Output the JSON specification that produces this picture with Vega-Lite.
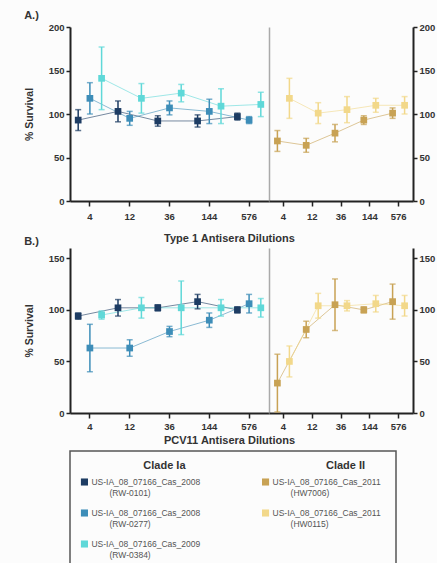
{
  "$schema": "https://vega.github.io/schema/vega-lite/v6.json",
  "padding": {"left": 24, "top": 10, "right": 2, "bottom": 0},
  "background": "#fcfcfc",
  "config": {
    "font": "Liberation Sans",
    "view": {"stroke": null},
    "axis": {"domainColor": "#222", "domainWidth": 2, "tickColor": "#222", "tickWidth": 1.5, "tickSize": 4, "labelFontSize": 9.5, "labelFontWeight": "bold", "labelColor": "#333", "titleFontSize": 10.5, "titleFontWeight": "bold", "titleColor": "#333", "grid": false, "labelPadding": 2},
    "axisX": {"labelPadding": 5, "tickSize": 5},
    "title": {"fontSize": 11, "fontWeight": "bold", "color": "#333"}
  },
  "datasets": {
    "surv": [
      {"panel": "A", "clade": "Clade Ia", "series": "RW-0101", "dilution": "4", "mean": 93, "lo": 81, "hi": 105},
      {"panel": "A", "clade": "Clade Ia", "series": "RW-0101", "dilution": "12", "mean": 103, "lo": 91, "hi": 115},
      {"panel": "A", "clade": "Clade Ia", "series": "RW-0101", "dilution": "36", "mean": 92, "lo": 86, "hi": 98},
      {"panel": "A", "clade": "Clade Ia", "series": "RW-0101", "dilution": "144", "mean": 92, "lo": 85, "hi": 99},
      {"panel": "A", "clade": "Clade Ia", "series": "RW-0101", "dilution": "576", "mean": 97, "lo": 93, "hi": 101},
      {"panel": "A", "clade": "Clade Ia", "series": "RW-0277", "dilution": "4", "mean": 118, "lo": 100, "hi": 136},
      {"panel": "A", "clade": "Clade Ia", "series": "RW-0277", "dilution": "12", "mean": 95, "lo": 87, "hi": 103},
      {"panel": "A", "clade": "Clade Ia", "series": "RW-0277", "dilution": "36", "mean": 107, "lo": 99, "hi": 115},
      {"panel": "A", "clade": "Clade Ia", "series": "RW-0277", "dilution": "144", "mean": 103, "lo": 89, "hi": 117},
      {"panel": "A", "clade": "Clade Ia", "series": "RW-0277", "dilution": "576", "mean": 93, "lo": 89, "hi": 97},
      {"panel": "A", "clade": "Clade Ia", "series": "RW-0384", "dilution": "4", "mean": 141, "lo": 105, "hi": 177},
      {"panel": "A", "clade": "Clade Ia", "series": "RW-0384", "dilution": "12", "mean": 118, "lo": 101, "hi": 135},
      {"panel": "A", "clade": "Clade Ia", "series": "RW-0384", "dilution": "36", "mean": 124, "lo": 114, "hi": 134},
      {"panel": "A", "clade": "Clade Ia", "series": "RW-0384", "dilution": "144", "mean": 109, "lo": 89, "hi": 129},
      {"panel": "A", "clade": "Clade Ia", "series": "RW-0384", "dilution": "576", "mean": 111, "lo": 97, "hi": 125},
      {"panel": "A", "clade": "Clade II", "series": "HW7006", "dilution": "4", "mean": 69, "lo": 57, "hi": 81},
      {"panel": "A", "clade": "Clade II", "series": "HW7006", "dilution": "12", "mean": 64, "lo": 56, "hi": 72},
      {"panel": "A", "clade": "Clade II", "series": "HW7006", "dilution": "36", "mean": 78, "lo": 68, "hi": 88},
      {"panel": "A", "clade": "Clade II", "series": "HW7006", "dilution": "144", "mean": 93, "lo": 88, "hi": 98},
      {"panel": "A", "clade": "Clade II", "series": "HW7006", "dilution": "576", "mean": 101, "lo": 95, "hi": 107},
      {"panel": "A", "clade": "Clade II", "series": "HW0115", "dilution": "4", "mean": 118, "lo": 95, "hi": 141},
      {"panel": "A", "clade": "Clade II", "series": "HW0115", "dilution": "12", "mean": 101, "lo": 89, "hi": 113},
      {"panel": "A", "clade": "Clade II", "series": "HW0115", "dilution": "36", "mean": 105, "lo": 90, "hi": 120},
      {"panel": "A", "clade": "Clade II", "series": "HW0115", "dilution": "144", "mean": 110, "lo": 102, "hi": 118},
      {"panel": "A", "clade": "Clade II", "series": "HW0115", "dilution": "576", "mean": 110, "lo": 100, "hi": 120},
      {"panel": "B", "clade": "Clade Ia", "series": "RW-0101", "dilution": "4", "mean": 94, "lo": 91, "hi": 97},
      {"panel": "B", "clade": "Clade Ia", "series": "RW-0101", "dilution": "12", "mean": 102, "lo": 94, "hi": 110},
      {"panel": "B", "clade": "Clade Ia", "series": "RW-0101", "dilution": "36", "mean": 102, "lo": 99, "hi": 105},
      {"panel": "B", "clade": "Clade Ia", "series": "RW-0101", "dilution": "144", "mean": 108, "lo": 101, "hi": 115},
      {"panel": "B", "clade": "Clade Ia", "series": "RW-0101", "dilution": "576", "mean": 100, "lo": 97, "hi": 103},
      {"panel": "B", "clade": "Clade Ia", "series": "RW-0277", "dilution": "4", "mean": 63, "lo": 40, "hi": 86},
      {"panel": "B", "clade": "Clade Ia", "series": "RW-0277", "dilution": "12", "mean": 63, "lo": 55, "hi": 71},
      {"panel": "B", "clade": "Clade Ia", "series": "RW-0277", "dilution": "36", "mean": 79, "lo": 74, "hi": 84},
      {"panel": "B", "clade": "Clade Ia", "series": "RW-0277", "dilution": "144", "mean": 90, "lo": 83, "hi": 97},
      {"panel": "B", "clade": "Clade Ia", "series": "RW-0277", "dilution": "576", "mean": 106, "lo": 97, "hi": 115},
      {"panel": "B", "clade": "Clade Ia", "series": "RW-0384", "dilution": "4", "mean": 95, "lo": 91, "hi": 99},
      {"panel": "B", "clade": "Clade Ia", "series": "RW-0384", "dilution": "12", "mean": 102, "lo": 92, "hi": 112},
      {"panel": "B", "clade": "Clade Ia", "series": "RW-0384", "dilution": "36", "mean": 102, "lo": 76, "hi": 128},
      {"panel": "B", "clade": "Clade Ia", "series": "RW-0384", "dilution": "144", "mean": 102, "lo": 94, "hi": 110},
      {"panel": "B", "clade": "Clade Ia", "series": "RW-0384", "dilution": "576", "mean": 102, "lo": 93, "hi": 111},
      {"panel": "B", "clade": "Clade II", "series": "HW7006", "dilution": "4", "mean": 29, "lo": 1, "hi": 57},
      {"panel": "B", "clade": "Clade II", "series": "HW7006", "dilution": "12", "mean": 81, "lo": 73, "hi": 89},
      {"panel": "B", "clade": "Clade II", "series": "HW7006", "dilution": "36", "mean": 105, "lo": 80, "hi": 130},
      {"panel": "B", "clade": "Clade II", "series": "HW7006", "dilution": "144", "mean": 100, "lo": 97, "hi": 103},
      {"panel": "B", "clade": "Clade II", "series": "HW7006", "dilution": "576", "mean": 108, "lo": 91, "hi": 125},
      {"panel": "B", "clade": "Clade II", "series": "HW0115", "dilution": "4", "mean": 50, "lo": 35, "hi": 65},
      {"panel": "B", "clade": "Clade II", "series": "HW0115", "dilution": "12", "mean": 104, "lo": 92, "hi": 116},
      {"panel": "B", "clade": "Clade II", "series": "HW0115", "dilution": "36", "mean": 104, "lo": 99, "hi": 109},
      {"panel": "B", "clade": "Clade II", "series": "HW0115", "dilution": "144", "mean": 106, "lo": 98, "hi": 114},
      {"panel": "B", "clade": "Clade II", "series": "HW0115", "dilution": "576", "mean": 104, "lo": 94, "hi": 114}
    ],
    "leg": [
      {"clade": "Clade Ia", "entry": 1, "series": "RW-0101", "strain": "US-IA_08_07166_Cas_2008", "id": "(RW-0101)"},
      {"clade": "Clade Ia", "entry": 2, "series": "RW-0277", "strain": "US-IA_08_07166_Cas_2008", "id": "(RW-0277)"},
      {"clade": "Clade Ia", "entry": 3, "series": "RW-0384", "strain": "US-IA_08_07166_Cas_2009", "id": "(RW-0384)"},
      {"clade": "Clade II", "entry": 1, "series": "HW7006", "strain": "US-IA_08_07166_Cas_2011", "id": "(HW7006)"},
      {"clade": "Clade II", "entry": 2, "series": "HW0115", "strain": "US-IA_08_07166_Cas_2011", "id": "(HW0115)"}
    ]
  },
  "spacing": -8,
  "vconcat": [
    {
      "title": {"text": "A.)", "anchor": "start", "offset": 1},
      "vconcat": [
        {
          "title": {"text": "Type 1 Antisera Dilutions", "orient": "bottom", "anchor": "middle", "offset": 12},
          "spacing": 0,
          "resolve": {"scale": {"x": "independent", "xOffset": "independent", "y": "independent"}},
          "hconcat": [
            {
              "width": 199, "height": 174,
              "data": {"name": "surv"},
              "transform": [{"filter": "datum.panel == 'A' && datum.clade == 'Clade Ia'"}],
              "encoding": {
                "x": {"field": "dilution", "type": "ordinal", "sort": ["4", "12", "36", "144", "576"], "scale": {"paddingInner": 0, "paddingOuter": 0}, "axis": {"title": null, "labelAngle": 0}},
                "xOffset": {"field": "series", "type": "nominal", "scale": {"domain": ["RW-0101", "RW-0277", "RW-0384"], "paddingInner": 0, "paddingOuter": 0.2}},
                "color": {"field": "series", "type": "nominal", "legend": null, "scale": {"domain": ["RW-0101", "RW-0277", "RW-0384", "HW7006", "HW0115"], "range": ["#1d3c63", "#3d8db8", "#5fd8d8", "#c8a254", "#f2d88a"]}}
              },
              "layer": [
                {"mark": {"type": "line", "strokeWidth": 1, "opacity": 0.6}, "encoding": {"y": {"field": "mean", "type": "quantitative", "scale": {"domain": [0, 200]}, "axis": {"values": [0, 50, 100, 150, 200], "title": "% Survival", "titlePadding": 14}}}},
                {"mark": {"type": "rule", "strokeWidth": 1.5}, "encoding": {"y": {"field": "lo", "type": "quantitative", "axis": null}, "y2": {"field": "hi"}}},
                {"mark": {"type": "tick", "thickness": 1.5, "size": 6}, "encoding": {"y": {"field": "lo", "type": "quantitative", "axis": null}}},
                {"mark": {"type": "tick", "thickness": 1.5, "size": 6}, "encoding": {"y": {"field": "hi", "type": "quantitative", "axis": null}}},
                {"mark": {"type": "square", "size": 45, "opacity": 1}, "encoding": {"y": {"field": "mean", "type": "quantitative", "axis": null}}},
                {"mark": {"type": "rule", "opacity": 0}, "encoding": {"y": {"field": "mean", "type": "quantitative", "axis": {"orient": "right", "labels": false, "ticks": false, "title": null, "domainColor": "#aaa", "domainWidth": 1.5}}}}
              ],
              "resolve": {"axis": {"y": "independent"}}
            },
            {
              "width": 144, "height": 174,
              "data": {"name": "surv"},
              "transform": [{"filter": "datum.panel == 'A' && datum.clade == 'Clade II'"}],
              "encoding": {
                "x": {"field": "dilution", "type": "ordinal", "sort": ["4", "12", "36", "144", "576"], "scale": {"paddingInner": 0, "paddingOuter": 0}, "axis": {"title": null, "labelAngle": 0}},
                "xOffset": {"field": "series", "type": "nominal", "scale": {"domain": ["HW7006", "HW0115"], "paddingInner": 0, "paddingOuter": 0.2}},
                "color": {"field": "series", "type": "nominal", "legend": null}
              },
              "layer": [
                {"mark": {"type": "line", "strokeWidth": 1, "opacity": 0.6}, "encoding": {"y": {"field": "mean", "type": "quantitative", "scale": {"domain": [0, 200]}, "axis": {"orient": "right", "values": [0, 50, 100, 150, 200], "title": null}}}},
                {"mark": {"type": "rule", "strokeWidth": 1.5}, "encoding": {"y": {"field": "lo", "type": "quantitative"}, "y2": {"field": "hi"}}},
                {"mark": {"type": "tick", "thickness": 1.5, "size": 6}, "encoding": {"y": {"field": "lo", "type": "quantitative"}}},
                {"mark": {"type": "tick", "thickness": 1.5, "size": 6}, "encoding": {"y": {"field": "hi", "type": "quantitative"}}},
                {"mark": {"type": "square", "size": 45, "opacity": 1}, "encoding": {"y": {"field": "mean", "type": "quantitative"}}}
              ]
            }
          ]
        }
      ]
    },
    {
      "title": {"text": "B.)", "anchor": "start", "offset": 1},
      "spacing": 4,
      "vconcat": [
        {
          "title": {"text": "PCV11 Antisera Dilutions", "orient": "bottom", "anchor": "middle", "offset": 4},
          "spacing": 0,
          "resolve": {"scale": {"x": "independent", "xOffset": "independent", "y": "independent"}},
          "hconcat": [
            {
              "width": 199, "height": 165,
              "data": {"name": "surv"},
              "transform": [{"filter": "datum.panel == 'B' && datum.clade == 'Clade Ia'"}],
              "encoding": {
                "x": {"field": "dilution", "type": "ordinal", "sort": ["4", "12", "36", "144", "576"], "scale": {"paddingInner": 0, "paddingOuter": 0}, "axis": {"title": null, "labelAngle": 0, "labelPadding": 3}},
                "xOffset": {"field": "series", "type": "nominal", "scale": {"domain": ["RW-0101", "RW-0277", "RW-0384"], "paddingInner": 0, "paddingOuter": 0.2}},
                "color": {"field": "series", "type": "nominal", "legend": null}
              },
              "layer": [
                {"mark": {"type": "line", "strokeWidth": 1, "opacity": 0.6}, "encoding": {"y": {"field": "mean", "type": "quantitative", "scale": {"domain": [0, 150]}, "axis": {"values": [0, 50, 100, 150], "title": "% Survival", "titlePadding": 14}}}},
                {"mark": {"type": "rule", "strokeWidth": 1.5}, "encoding": {"y": {"field": "lo", "type": "quantitative", "axis": null}, "y2": {"field": "hi"}}},
                {"mark": {"type": "tick", "thickness": 1.5, "size": 6}, "encoding": {"y": {"field": "lo", "type": "quantitative", "axis": null}}},
                {"mark": {"type": "tick", "thickness": 1.5, "size": 6}, "encoding": {"y": {"field": "hi", "type": "quantitative", "axis": null}}},
                {"mark": {"type": "square", "size": 45, "opacity": 1}, "encoding": {"y": {"field": "mean", "type": "quantitative", "axis": null}}},
                {"mark": {"type": "rule", "opacity": 0}, "encoding": {"y": {"field": "mean", "type": "quantitative", "axis": {"orient": "right", "labels": false, "ticks": false, "title": null, "domainColor": "#aaa", "domainWidth": 1.5}}}}
              ],
              "resolve": {"axis": {"y": "independent"}}
            },
            {
              "width": 144, "height": 165,
              "data": {"name": "surv"},
              "transform": [{"filter": "datum.panel == 'B' && datum.clade == 'Clade II'"}],
              "encoding": {
                "x": {"field": "dilution", "type": "ordinal", "sort": ["4", "12", "36", "144", "576"], "scale": {"paddingInner": 0, "paddingOuter": 0}, "axis": {"title": null, "labelAngle": 0, "labelPadding": 3}},
                "xOffset": {"field": "series", "type": "nominal", "scale": {"domain": ["HW7006", "HW0115"], "paddingInner": 0, "paddingOuter": 0.2}},
                "color": {"field": "series", "type": "nominal", "legend": null}
              },
              "layer": [
                {"mark": {"type": "line", "strokeWidth": 1, "opacity": 0.6}, "encoding": {"y": {"field": "mean", "type": "quantitative", "scale": {"domain": [0, 150]}, "axis": {"orient": "right", "values": [0, 50, 100, 150], "title": null}}}},
                {"mark": {"type": "rule", "strokeWidth": 1.5}, "encoding": {"y": {"field": "lo", "type": "quantitative"}, "y2": {"field": "hi"}}},
                {"mark": {"type": "tick", "thickness": 1.5, "size": 6}, "encoding": {"y": {"field": "lo", "type": "quantitative"}}},
                {"mark": {"type": "tick", "thickness": 1.5, "size": 6}, "encoding": {"y": {"field": "hi", "type": "quantitative"}}},
                {"mark": {"type": "square", "size": 45, "opacity": 1}, "encoding": {"y": {"field": "mean", "type": "quantitative"}}}
              ]
            }
          ]
        },
        {
          "width": 326, "height": 124,
          "data": {"name": "leg"},
          "view": {"stroke": "#555", "strokeWidth": 1.5},
          "encoding": {
            "x": {"field": "clade", "type": "ordinal", "sort": ["Clade Ia", "Clade II"], "scale": {"type": "point", "padding": 0.4}, "axis": null},
            "y": {"field": "entry", "type": "ordinal", "scale": {"type": "point", "padding": 1.3}, "axis": {"title": null, "labels": false, "ticks": false, "domain": false, "minExtent": 34}},
            "color": {"field": "series", "type": "nominal", "legend": null}
          },
          "layer": [
            {"transform": [{"filter": "datum.entry == 1"}], "mark": {"type": "text", "dx": 22, "dy": -16, "fontSize": 11, "fontWeight": "bold"}, "encoding": {"text": {"field": "clade"}, "color": {"value": "#333"}}},
            {"mark": {"type": "square", "size": 50, "opacity": 1, "xOffset": -58}},
            {"mark": {"type": "text", "align": "left", "dx": -51, "fontSize": 8.5}, "encoding": {"text": {"field": "strain"}, "color": {"value": "#555"}}},
            {"mark": {"type": "text", "align": "left", "dx": -33, "dy": 11, "fontSize": 8.5}, "encoding": {"text": {"field": "id"}, "color": {"value": "#555"}}}
          ]
        }
      ]
    }
  ]
}
